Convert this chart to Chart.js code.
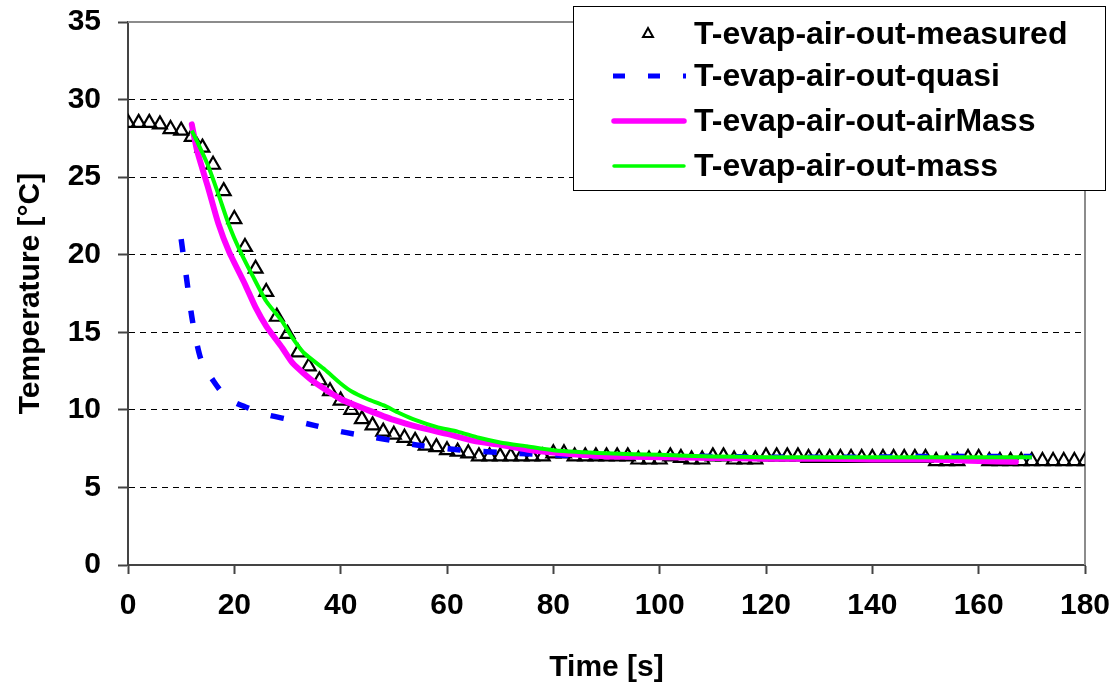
<!DOCTYPE html>
<html>
<head>
<meta charset="utf-8">
<script src="https://cdn.jsdelivr.net/npm/chart.js@4/dist/chart.umd.min.js"></script>
<style>
  html, body { margin: 0; padding: 0; background: #fff; }
  #wrap { width: 1115px; height: 689px; position: relative; }
</style>
</head>
<body>
<div id="wrap"><canvas id="chart"></canvas></div>
<script>
// ---------------------------------------------------------------------------
// Data
// ---------------------------------------------------------------------------
const measuredTime = [
  0, 2, 4, 6, 8, 10, 12, 14, 16, 18, 20, 22, 24, 26, 28, 30, 32, 34, 36, 38,
  40, 42, 44, 46, 48, 50, 52, 54, 56, 58, 60, 62, 64, 66, 68, 70, 72, 74, 76, 78,
  80, 82, 84, 86, 88, 90, 92, 94, 96, 98, 100, 102, 104, 106, 108, 110, 112, 114, 116, 118,
  120, 122, 124, 126, 128, 130, 132, 134, 136, 138, 140, 142, 144, 146, 148, 150, 152, 154, 156, 158,
  160, 162, 164, 166, 168, 170, 172, 174, 176, 178, 180
];
const measuredTemp = [
  28.5, 28.5, 28.5, 28.4, 28.1, 28.0, 27.6, 26.9, 25.8, 24.1, 22.3, 20.5, 19.1, 17.6, 16.0, 14.9, 13.7, 12.8, 11.9, 11.2,
  10.6, 10.0, 9.4, 9.0, 8.6, 8.4, 8.2, 8.0, 7.7, 7.6, 7.4, 7.3, 7.2, 7.0, 7.0, 7.0, 7.0, 7.0, 7.0, 7.0,
  7.2, 7.2, 7.0, 7.0, 7.0, 7.0, 7.0, 7.0, 6.8, 6.8, 6.8, 7.0, 6.9, 6.8, 6.8, 7.0, 7.0, 6.8, 6.8, 6.8,
  7.0, 7.0, 7.0, 7.0, 6.9, 6.9, 6.9, 6.9, 6.9, 6.9, 6.9, 6.9, 6.9, 6.9, 6.9, 6.9, 6.7, 6.7, 6.7, 6.9,
  6.9, 6.7, 6.7, 6.7, 6.7, 6.7, 6.7, 6.7, 6.7, 6.7, 6.7
];

const quasiTime = [10, 11, 12, 13, 14, 16, 18, 20, 22, 26, 30, 35, 40, 45, 50, 55, 60, 65, 70, 80, 90, 100, 110, 120, 130, 140, 150, 160, 170];
const quasiTemp = [21.0, 18.5, 16.0, 14.2, 13.0, 11.9, 11.0, 10.5, 10.2, 9.7, 9.4, 9.0, 8.6, 8.3, 8.0, 7.7, 7.5, 7.35, 7.25, 7.1, 7.0, 7.0, 7.0, 6.95, 6.95, 6.95, 7.0, 7.0, 7.0];

const airMassTime = [12, 13, 15, 17, 19, 22, 24, 26, 29, 31, 35, 40, 45, 50, 55, 60, 65, 70, 75, 80, 85, 90, 100, 110, 120, 130, 140, 150, 160, 167];
const airMassTemp = [28.4, 26.7, 24.4, 22.0, 20.2, 18.1, 16.6, 15.4, 14.0, 13.0, 11.8, 10.7, 10.0, 9.35, 8.85, 8.45, 8.0, 7.75, 7.45, 7.25, 7.1, 7.0, 6.95, 6.9, 6.85, 6.85, 6.8, 6.8, 6.7, 6.65];

const massTime = [12, 13, 15, 17, 19, 21, 23.5, 26, 29, 31, 33, 37, 40, 42, 45, 48, 51, 54, 58, 62, 66, 70, 75, 80, 90, 100, 110, 120, 130, 140, 150, 160, 170];
const massTemp = [28.0, 27.3, 25.8, 23.9, 21.9, 20.3, 18.6, 17.0, 15.7, 14.6, 13.7, 12.6, 11.7, 11.2, 10.7, 10.3, 9.8, 9.35, 8.9, 8.6, 8.2, 7.9, 7.65, 7.4, 7.2, 7.1, 7.0, 6.95, 6.95, 6.95, 6.95, 6.95, 6.95];

const seriesNames = [
  'T-evap-air-out-measured',
  'T-evap-air-out-quasi',
  'T-evap-air-out-airMass',
  'T-evap-air-out-mass',
];

const FONT = '"Liberation Sans", Arial, sans-serif';

function pts(xs, ys) {
  return xs.map((x, i) => ({ x, y: ys[i] }));
}

// ---------------------------------------------------------------------------
// Plot frame (grey top/right edges) and the boxed legend inside the plot
// ---------------------------------------------------------------------------
const framePlugin = {
  id: 'frame',
  beforeDatasetsDraw(chart) {
    const { ctx, chartArea: a } = chart;
    ctx.save();
    ctx.strokeStyle = '#8c8c8c';
    ctx.lineWidth = 2;
    ctx.beginPath();
    ctx.moveTo(a.left, a.top);
    ctx.lineTo(a.right, a.top);
    ctx.lineTo(a.right, a.bottom);
    ctx.stroke();
    ctx.restore();
  },
};

const legendPlugin = {
  id: 'boxLegend',
  afterDraw(chart) {
    const ctx = chart.ctx;
    const box = { x: 573, y: 6, w: 532, h: 184 };
    const rows = [34, 76, 121, 166];
    ctx.save();
    ctx.fillStyle = '#fff';
    ctx.fillRect(box.x, box.y, box.w, box.h);
    ctx.strokeStyle = '#000';
    ctx.lineWidth = 1;
    ctx.strokeRect(box.x + 0.5, box.y + 0.5, box.w, box.h);

    // measured: small hollow triangle
    ctx.lineWidth = 2;
    ctx.strokeStyle = '#000';
    ctx.beginPath();
    ctx.moveTo(648, rows[0] - 6);
    ctx.lineTo(653, rows[0] + 3);
    ctx.lineTo(643, rows[0] + 3);
    ctx.closePath();
    ctx.stroke();

    // quasi: blue dashes
    ctx.strokeStyle = '#0000ff';
    ctx.lineWidth = 5;
    ctx.setLineDash([12, 23]);
    ctx.beginPath();
    ctx.moveTo(613, rows[1]);
    ctx.lineTo(686, rows[1]);
    ctx.stroke();
    ctx.setLineDash([]);

    // airMass: thick magenta
    ctx.strokeStyle = '#ff00ff';
    ctx.lineWidth = 5.5;
    ctx.lineCap = 'round';
    ctx.beginPath();
    ctx.moveTo(614, rows[2]);
    ctx.lineTo(684, rows[2]);
    ctx.stroke();

    // mass: green
    ctx.strokeStyle = '#00ff00';
    ctx.lineWidth = 3.5;
    ctx.beginPath();
    ctx.moveTo(614, rows[3]);
    ctx.lineTo(684, rows[3]);
    ctx.stroke();

    ctx.fillStyle = '#000';
    ctx.font = 'bold 32px ' + FONT;
    ctx.textBaseline = 'middle';
    ctx.textAlign = 'left';
    seriesNames.forEach((name, i) => ctx.fillText(name, 694, rows[i] + 1));
    ctx.restore();
  },
};

// ---------------------------------------------------------------------------
// Chart
// ---------------------------------------------------------------------------
const tickFont = { family: FONT, size: 30, weight: 'bold' };

new Chart(document.getElementById('chart'), {
  type: 'line',
  data: {
    datasets: [
      {
        label: seriesNames[0],
        data: pts(measuredTime, measuredTemp),
        showLine: false,
        pointStyle: 'triangle',
        pointRadius: 8,
        pointBorderWidth: 2.2,
        pointBorderColor: '#000',
        pointBackgroundColor: 'rgba(255,255,255,0)',
        order: 4,
      },
      {
        label: seriesNames[1],
        data: pts(quasiTime, quasiTemp),
        borderColor: '#0000ff',
        borderWidth: 5.5,
        borderDash: [13, 23],
        pointRadius: 0,
        tension: 0.3,
        order: 3,
      },
      {
        label: seriesNames[2],
        data: pts(airMassTime, airMassTemp),
        borderColor: '#ff00ff',
        borderWidth: 6,
        pointRadius: 0,
        borderCapStyle: 'round',
        tension: 0.2,
        order: 2,
      },
      {
        label: seriesNames[3],
        data: pts(massTime, massTemp),
        borderColor: '#00ff00',
        borderWidth: 4,
        pointRadius: 0,
        tension: 0.2,
        order: 1,
      },
    ],
  },
  options: {
    animation: false,
    responsive: true,
    maintainAspectRatio: false,
    layout: { padding: { top: 22, right: 30, bottom: 0, left: 0 } },
    plugins: {
      legend: { display: false },
      tooltip: { enabled: false },
    },
    scales: {
      x: {
        type: 'linear',
        min: 0,
        max: 180,
        ticks: { stepSize: 20, font: tickFont, color: '#000', padding: 14, maxRotation: 0 },
        grid: { drawOnChartArea: false, drawTicks: true, tickLength: 9, tickColor: '#444', tickWidth: 2 },
        border: { color: '#444', width: 2 },
        title: { display: true, text: 'Time [s]', font: tickFont, color: '#000', padding: { top: 0, bottom: 3 } },
        afterFit: s => { s.height = 124; s.paddingLeft = 0; s.paddingRight = 0; },
      },
      y: {
        min: 0,
        max: 35,
        ticks: { stepSize: 5, font: tickFont, color: '#000', padding: 17 },
        grid: {
          color: c => (c.tick && (c.tick.value === 0 || c.tick.value === 35)) ? 'rgba(0,0,0,0)' : '#000',
          lineWidth: 1,
          tickLength: 10,
          tickColor: '#444',
          tickWidth: 2,
        },
        border: { color: '#444', width: 2, dash: [6, 5] },
        title: { display: true, text: 'Temperature [°C]', font: tickFont, color: '#000', padding: { top: 13, bottom: 0 } },
        afterFit: s => { s.width = 128; s.paddingTop = 0; s.paddingBottom = 0; },
      },
    },
  },
  plugins: [framePlugin, legendPlugin],
});
</script>
</body>
</html>
